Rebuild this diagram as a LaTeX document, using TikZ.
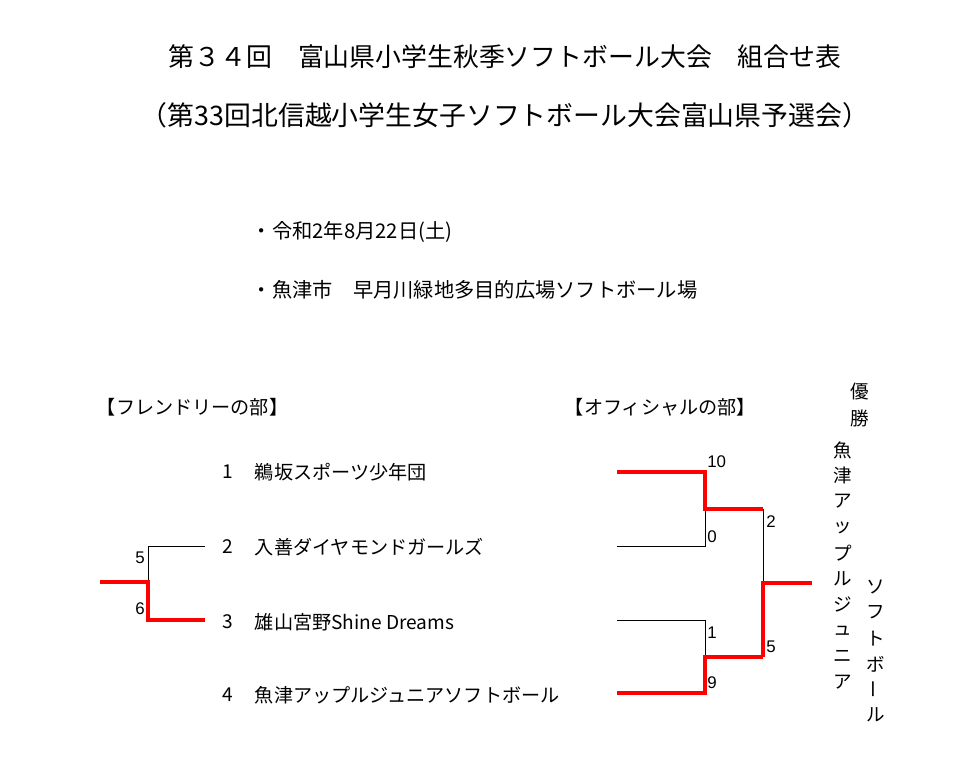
\documentclass[tikz,border=0pt]{standalone}
\usepackage{fontspec}
\setmainfont{Noto Sans CJK JP}
\newfontfamily\scorefont{Liberation Sans}

\begin{document}
\begin{tikzpicture}[x=0.025cm,y=-0.025cm,
  titletext/.style={font=\fontsize{18.4}{22}\selectfont},
  subtitletext/.style={font=\fontsize{19.1}{22}\selectfont},
  bodytext/.style={anchor=west,font=\fontsize{13.6}{16}\selectfont},
  infotext/.style={anchor=west,font=\fontsize{14.4}{17}\selectfont},
  teamno/.style={font=\fontsize{13.6}{16}\selectfont},
  vchar/.style={inner sep=0pt,font=\fontsize{13.2}{16}\selectfont},
  score/.style={anchor=west,inner sep=0pt,font=\scorefont\fontsize{12}{14}\selectfont},
  lose/.style={draw=black,line width=0.6pt},
  win/.style={draw=red,line width=2.2pt}]
		\useasboundingbox (0,0) rectangle (956,769);
		\node[titletext] (title) at (505,57) {第３４回　富山県小学生秋季ソフトボール大会　組合せ表};
		\node[subtitletext] (subtitle) at (505,115) {（第33回北信越小学生女子ソフトボール大会富山県予選会）};
		\node[infotext] (date) at (247,232) {・令和2年8月22日(土)};
		\node[infotext] (place) at (247,290) {・魚津市　早月川緑地多目的広場ソフトボール場};
		\node[bodytext] (friendly) at (92,407) {【フレンドリーの部】};
		\node[bodytext] (official) at (560,407) {【オフィシャルの部】};
		\node[vchar] (yu) at (860,392) {優};
		\node[vchar] (sho) at (860,418) {勝};
		\foreach \n/\name/\y in {1/鵜坂スポーツ少年団/472,2/入善ダイヤモンドガールズ/547,3/雄山宮野Shine Dreams/622,4/魚津アップルジュニアソフトボール/695}{
			\node[teamno] (no\n) at (228,\y) {\n};
			\node[bodytext] (team\n) at (250,\y) {\name};
		}
		\foreach \ch [count=\i] in {魚,津,ア,ッ,プ,ル,ジ,ュ,ニ,ア}
			\node[vchar] (champa\i) at (843,{450+25.8*(\i-1)}) {\ch};
		\foreach \ch/\r [count=\i] in {ソ/0,フ/0,ト/0,ボ/0,ー/90,ル/0}
			\node[vchar,rotate=\r] (champb\i) at (876,{587+25.6*(\i-1)}) {\ch};
		\coordinate (f2) at (205,546);
		\coordinate (f3) at (205,620);
		\coordinate (fm) at (148,582);
		\coordinate (fw) at (100,582);
		\coordinate (o1) at (617,472);
		\coordinate (o2) at (617,546);
		\coordinate (o3) at (617,620);
		\coordinate (o4) at (617,693);
		\coordinate (s1) at (705,509);
		\coordinate (s2) at (705,657);
		\coordinate (q1) at (763,509);
		\coordinate (q2) at (763,657);
		\coordinate (fin) at (763,583);
		\coordinate (champ) at (812,583);
		\draw[lose] (f2) -| (fm);
		\draw[win] (f3) -| (fm) -- (fw);
		\draw[lose] (o2) -| (s1);
		\draw[win] (o1) -| (s1) -- (q1);
		\draw[lose] (o3) -| (s2);
		\draw[win] (o4) -| (s2) -- (q2);
		\draw[lose] (q1) -- (fin);
		\draw[win] (q2) -- (fin) -- (champ);
		\node[score,anchor=center] (sf1) at (140,558) {5};
		\node[score,anchor=center] (sf2) at (140,609) {6};
		\node[score] (so1) at (707,462) {10};
		\node[score] (so2) at (707,537) {0};
		\node[score] (so3) at (707,633) {1};
		\node[score] (so4) at (707,683) {9};
		\node[score] (sq1) at (766,522) {2};
		\node[score] (sq2) at (766,647) {5};
	\end{tikzpicture}
\end{document}
